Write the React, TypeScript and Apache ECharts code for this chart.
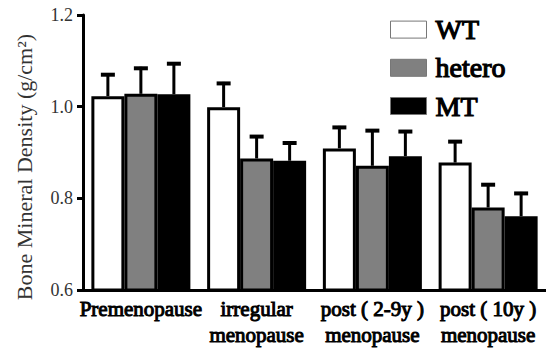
import React, { useEffect, useRef } from "react";
import * as echarts from "echarts";

const categories = [
  "Premenopause",
  "irregular\nmenopause",
  "post ( 2-9y )\nmenopause",
  "post ( 10y )\nmenopause",
];
const seriesNames = ["WT", "hetero", "MT"];
const wt = [1.023, 0.999, 0.909, 0.878];
const wtErr = [1.073, 1.054, 0.958, 0.927];
const hetero = [1.028, 0.887, 0.871, 0.78];
const heteroErr = [1.087, 0.938, 0.951, 0.833];
const mt = [1.027, 0.882, 0.892, 0.761];
const mtErr = [1.097, 0.924, 0.949, 0.814];
const yTicks = [0.6, 0.8, 1.0, 1.2];

const FONT = "Liberation Serif";
const BAR_W = 33;

export default function App() {
  const ref = useRef<HTMLDivElement>(null);
  useEffect(() => {
    if (!ref.current) return;
    const chart = echarts.init(ref.current, null, { renderer: "svg" });
    const values = [wt, hetero, mt];
    const errs = [wtErr, heteroErr, mtErr];
    const fills = ["#ffffff", "#808080", "#000000"];
    const offsets = [-BAR_W, 0, BAR_W];

    const bars = seriesNames.map((name, i) => ({
      type: "bar",
      name,
      data: values[i],
      barWidth: BAR_W,
      barGap: "0%",
      itemStyle: { color: fills[i], borderColor: "#000", borderWidth: 3 },
      z: 2,
    }));

    const errSeries = seriesNames.map((name, i) => ({
      type: "custom",
      name: name + " error",
      data: values[i].map((v, j) => [j, v, errs[i][j]]),
      z: 3,
      renderItem: (params: any, api: any) => {
        const base = api.coord([api.value(0), api.value(1)]);
        const top = api.coord([api.value(0), api.value(2)]);
        const x = base[0] + offsets[i];
        return {
          type: "group",
          children: [
            {
              type: "line",
              shape: { x1: x, y1: base[1], x2: x, y2: top[1] },
              style: { stroke: "#000", lineWidth: 3 },
            },
            {
              type: "line",
              shape: { x1: x - 7, y1: top[1] + 1.5, x2: x + 7, y2: top[1] + 1.5 },
              style: { stroke: "#000", lineWidth: 4 },
            },
          ],
        };
      },
    }));

    chart.setOption({
      animation: false,
      grid: { left: 83, right: 0, top: 15, bottom: 59 },
      legend: {
        data: seriesNames,
        orient: "vertical",
        left: 385,
        top: 10,
        itemWidth: 36,
        itemHeight: 17,
        itemGap: 9,
        icon: "rect",
        itemStyle: { borderColor: "#777", borderWidth: 1 },
        textStyle: {
          fontFamily: FONT,
          fontSize: 28,
          lineHeight: 26,
          color: "#000",
          textBorderColor: "#000",
          textBorderWidth: 1.2,
          padding: [0, 0, 0, 4],
        },
      },
      xAxis: {
        type: "category",
        data: categories,
        axisLine: { lineStyle: { color: "#000", width: 3 } },
        axisTick: { alignWithLabel: true, length: 6, lineStyle: { color: "#000", width: 2 } },
        axisLabel: {
          interval: 0,
          margin: 6,
          fontFamily: FONT,
          fontSize: 21,
          lineHeight: 26,
          color: "#000",
          textBorderColor: "#000",
          textBorderWidth: 1,
        },
      },
      yAxis: {
        type: "value",
        min: 0.6,
        max: 1.2,
        interval: 0.2,
        axisLine: { show: true, lineStyle: { color: "#000", width: 3 } },
        axisTick: { show: true, length: 6, lineStyle: { color: "#000", width: 3 } },
        splitLine: { show: false },
        axisLabel: {
          margin: 10,
          fontFamily: FONT,
          fontSize: 18,
          color: "#333",
          formatter: (v: number) => {
            const t = yTicks.find((k) => Math.abs(k - v) < 1e-6);
            return t !== undefined ? t.toFixed(1) : "";
          },
        },
      },
      graphic: [
        {
          type: "text",
          x: 24,
          y: 167,
          rotation: Math.PI / 2,
          style: {
            text: "Bone Mineral Density (g/cm²)",
            fontFamily: FONT,
            fontSize: 22,
            fill: "#333",
            align: "center",
            verticalAlign: "middle",
          },
        },
      ],
      series: [...bars, ...errSeries],
    });
    return () => chart.dispose();
  }, []);
  return (
    <div
      ref={ref}
      style={{ position: "absolute", left: 0, top: 0, width: 546, height: 349 }}
    />
  );
}
